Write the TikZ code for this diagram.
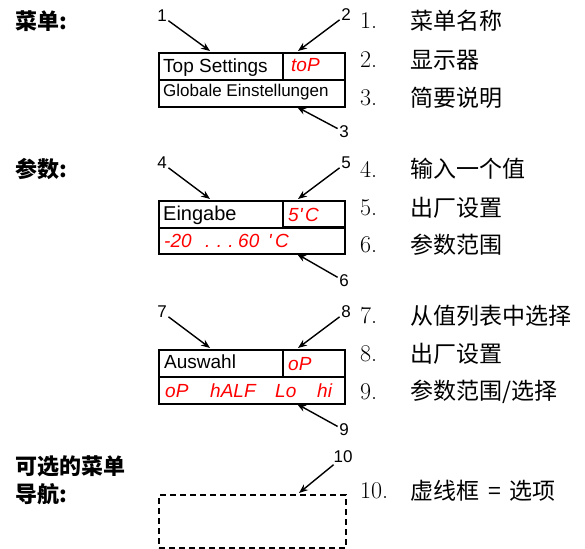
\documentclass[tikz,border=0pt]{standalone}
\usepackage{fontspec}
\usetikzlibrary{arrows.meta}
\newfontfamily\arialf{Liberation Sans}
\newfontfamily\cjkf{Noto Sans CJK SC}
\begin{document}
\begin{tikzpicture}[x=1bp,y=-1bp,
  cell/.style={draw, line width=1.7bp, anchor=north west, inner sep=0pt},
  arr/.style={-{Stealth[length=9bp,width=7bp]}, line width=1.4bp},
  num/.style={font=\arialf\fontsize{17bp}{20bp}\selectfont, inner sep=1.5bp},
  celltxt/.style={anchor=base west, inner sep=0pt, font=\arialf\fontsize{19bp}{22bp}\selectfont},
  red7/.style={anchor=base west, inner sep=0pt, text=red, font=\arialf\itshape\fontsize{19bp}{22bp}\selectfont},
  head/.style={anchor=west, inner sep=0pt, font=\cjkf\bfseries\fontsize{22bp}{26bp}\selectfont},
  rnum/.style={anchor=west, inner sep=0pt, font=\fontsize{24bp}{28bp}\selectfont},
  rtxt/.style={anchor=west, inner sep=0pt, font=\cjkf\fontsize{23bp}{27bp}\selectfont}
]
\useasboundingbox (0,0) rectangle (585,549);

% left headings
\node[head] (h1) at (15,21) {菜单:};
\node[head] (h2) at (15,169) {参数:};
\node[head] (h3a) at (15,466) {可选的菜单};
\node[head] (h3b) at (15,494) {导航:};

% box 1
\node[cell, minimum width=124bp, minimum height=27bp] (c1a) at (158,52) {};
\node[cell, minimum width=62bp, minimum height=27bp] (c1b) at (282,52) {};
\node[cell, minimum width=186bp, minimum height=27bp] (c1c) at (158,79) {};
\node[celltxt] (t1a) at (163,73) {Top Settings};
\node[red7] (t1b) at (291,72) {toP};
\node[celltxt, font=\arialf\fontsize{17bp}{20bp}\selectfont] (t1c) at (163,97) {Globale Einstellungen};

% box 2
\node[cell, minimum width=124bp, minimum height=27bp] (c2a) at (158,200) {};
\node[cell, minimum width=62bp, minimum height=26bp] (c2b) at (282,200) {};
\node[cell, minimum width=186bp, minimum height=26bp] (c2c) at (158,227) {};
\node[celltxt, font=\arialf\fontsize{20bp}{24bp}\selectfont] (t2a) at (163,221) {Eingabe};
\node[red7] (t2b1) at (288,222) {5};
\node[red7] (t2b2) at (299,222) {'};
\node[red7] (t2b3) at (305,222) {C};
\node[red7] (t2c1) at (164,247) {-20};
\node[red7] (t2c2) at (205,247) {.\,\,.\,\,.};
\node[red7] (t2c3) at (238,247) {60};
\node[red7] (t2c4) at (268,247) {'};
\node[red7] (t2c5) at (275,247) {C};

% box 3
\node[cell, minimum width=124bp, minimum height=27bp] (c3a) at (158,349) {};
\node[cell, minimum width=62bp, minimum height=27bp] (c3b) at (282,349) {};
\node[cell, minimum width=186bp, minimum height=27bp] (c3c) at (158,376) {};
\node[celltxt] (t3a) at (164,368) {Auswahl};
\node[red7] (t3b) at (288,370) {oP};
\node[red7] (t3c1) at (165,397) {oP};
\node[red7] (t3c2) at (210,397) {hALF};
\node[red7] (t3c3) at (275,397) {Lo};
\node[red7] (t3c4) at (317,397) {hi};

% dashed box
\node[cell, dash pattern=on 6bp off 4bp, minimum width=187bp, minimum height=53bp] (c4) at (158,494) {};

% number labels
\node[num] (n1) at (162,16) {1};
\node[num] (n2) at (346,15) {2};
\node[num] (n3) at (344,132) {3};
\node[num] (n4) at (162,163) {4};
\node[num] (n5) at (346,163) {5};
\node[num] (n6) at (344,281) {6};
\node[num] (n7) at (162,312) {7};
\node[num] (n8) at (346,312) {8};
\node[num] (n9) at (344,430) {9};
\node[num] (n10) at (343,457) {10};

% arrow tips
\coordinate (p1) at (210,51);
\coordinate (p2) at (298,51);
\coordinate (p3) at (297,107);
\coordinate (p4) at (210,199);
\coordinate (p5) at (298,199);
\coordinate (p6) at (297,254);
\coordinate (p7) at (210,348);
\coordinate (p8) at (298,348);
\coordinate (p9) at (297,404);
\coordinate (p10) at (299,493);

\foreach \i in {1,...,10} { \draw[arr] (n\i) -- (p\i); }

% right column
\node[rnum] (r1) at (360,21) {1.};
\node[rtxt] (s1) at (410,21) {菜单名称};
\node[rnum] (r2) at (360,60) {2.};
\node[rtxt] (s2) at (410,60) {显示器};
\node[rnum] (r3) at (360,98) {3.};
\node[rtxt] (s3) at (410,98) {简要说明};
\node[rnum] (r4) at (360,169) {4.};
\node[rtxt] (s4) at (410,169) {输入一个值};
\node[rnum] (r5) at (360,208) {5.};
\node[rtxt] (s5) at (410,208) {出厂设置};
\node[rnum] (r6) at (360,245) {6.};
\node[rtxt] (s6) at (410,245) {参数范围};
\node[rnum] (r7) at (360,316) {7.};
\node[rtxt] (s7) at (410,316) {从值列表中选择};
\node[rnum] (r8) at (360,354) {8.};
\node[rtxt] (s8) at (410,354) {出厂设置};
\node[rnum] (r9) at (360,392) {9.};
\node[rtxt] (s9) at (410,392) {参数范围/选择};
\node[rnum] (r10) at (360,491) {10.};
\node[rtxt] (s10) at (410,491) {虚线框\hspace{9bp}=\hspace{9bp}选项};
\end{tikzpicture}
\end{document}
